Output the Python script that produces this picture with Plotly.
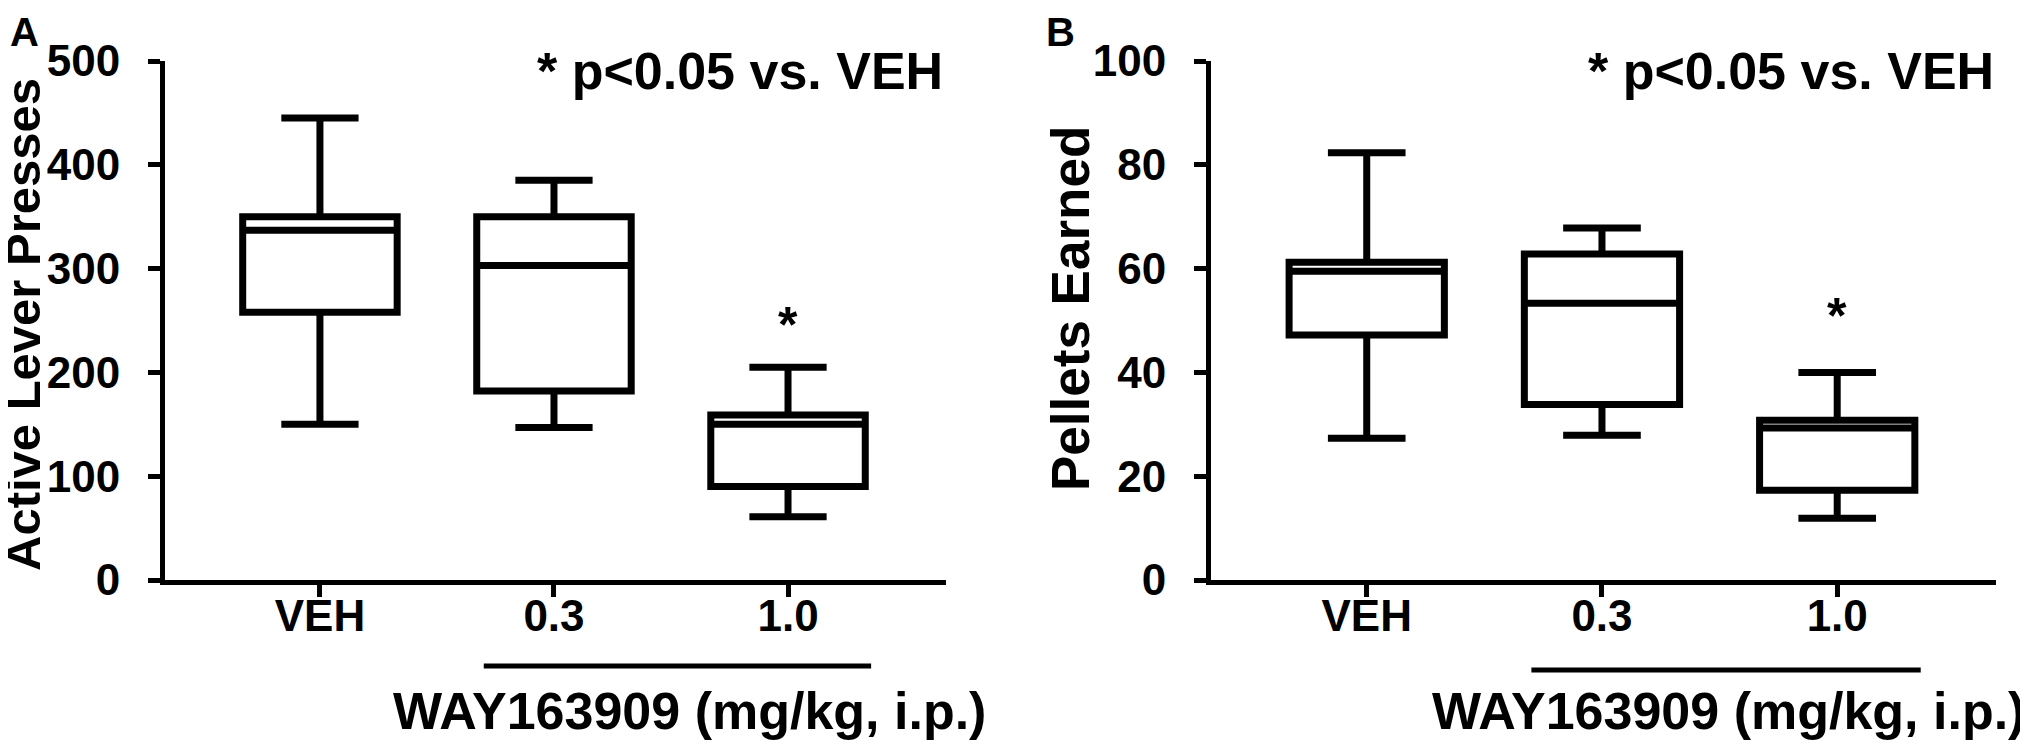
import plotly.graph_objects as go

categories = ["VEH", "0.3", "1.0"]

# Panel A: Active Lever Presses
a_upper = [445, 385, 205]
a_q3 = [350, 350, 159]
a_median = [337, 303, 150]
a_q1 = [258, 182, 90]
a_lower = [150, 147, 61]

# Panel B: Pellets Earned
b_upper = [82.3, 67.8, 40.0]
b_q3 = [61.2, 62.8, 30.8]
b_median = [59.5, 53.3, 29.3]
b_q1 = [47.2, 33.8, 17.3]
b_lower = [27.3, 27.9, 11.9]

a_ticks = [0, 100, 200, 300, 400, 500]
b_ticks = [0, 20, 40, 60, 80, 100]

W, H = 2028, 745
TOP, BOT = 53, 572
FONT = "Liberation Sans, Arial, sans-serif"


def px(x):
    return x / W


def py(y):
    return (BOT - y) / (BOT - TOP)


fig = go.Figure()

box_style = dict(
    fillcolor="white",
    line=dict(color="black", width=7),
    width=0.66,
    whiskerwidth=0.5,
    boxpoints=False,
    showlegend=False,
    hoverinfo="skip",
)

fig.add_trace(go.Box(x=categories, q1=a_q1, median=a_median, q3=a_q3,
                     lowerfence=a_lower, upperfence=a_upper,
                     xaxis="x", yaxis="y", **box_style))
fig.add_trace(go.Box(x=categories, q1=b_q1, median=b_median, q3=b_q3,
                     lowerfence=b_lower, upperfence=b_upper,
                     xaxis="x2", yaxis="y2", **box_style))

axis_common = dict(
    showline=True, linecolor="black", linewidth=5,
    ticks="outside", ticklen=12, tickwidth=5, tickcolor="black",
    showgrid=False, zeroline=False,
    tickfont=dict(family=FONT, size=44, color="black", weight="bold"),
)

xr = [-0.662, 2.675]
fig.update_layout(
    width=W, height=H,
    margin=dict(l=0, r=0, t=TOP, b=H - BOT),
    plot_bgcolor="white", paper_bgcolor="white",
    boxmode="overlay",
    xaxis=dict(domain=[px(157), px(938)], range=xr, type="category",
               anchor="y", ticklabelstandoff=-19, **axis_common),
    yaxis=dict(domain=[0, 1], range=[0, 500], tickvals=a_ticks,
               anchor="x", ticklabelstandoff=19, **axis_common),
    xaxis2=dict(domain=[px(1203), px(1988)], range=xr, type="category",
                anchor="y2", ticklabelstandoff=-19, **axis_common),
    yaxis2=dict(domain=[0, 1], range=[0, 100], tickvals=b_ticks,
                anchor="x2", ticklabelstandoff=19, **axis_common),
)

bold = dict(family=FONT, color="black", weight="bold")
ann = []
# panel letters
ann.append(dict(text="A", x=px(0), y=py(0), xref="paper", yref="paper",
                xanchor="left", yanchor="top", showarrow=False,
                font=dict(size=40, **bold)))
ann.append(dict(text="B", x=px(1036), y=py(0), xref="paper", yref="paper",
                xanchor="left", yanchor="top", showarrow=False,
                font=dict(size=40, **bold)))
# y titles
ann.append(dict(text="Active Lever Presses", x=px(15), y=py(317), xref="paper",
                yref="paper", textangle=-90, xanchor="center", yanchor="middle",
                showarrow=False, font=dict(size=49, **bold)))
ann.append(dict(text="Pellets Earned", x=px(1062), y=py(301), xref="paper",
                yref="paper", textangle=-90, xanchor="center", yanchor="middle",
                showarrow=False, font=dict(size=53, **bold)))
# significance notes
ann.append(dict(text="* p<0.05 vs. VEH", x=px(527), y=py(63), xref="paper",
                yref="paper", xanchor="left", yanchor="middle", showarrow=False,
                font=dict(size=52, **bold)))
ann.append(dict(text="* p<0.05 vs. VEH", x=px(1578), y=py(63), xref="paper",
                yref="paper", xanchor="left", yanchor="middle", showarrow=False,
                font=dict(size=52, **bold)))
# asterisks above the 1.0 group (category index 2)
ann.append(dict(text="*", x=2, y=py(317), xref="x", yref="paper",
                xanchor="center", yanchor="middle", showarrow=False,
                font=dict(size=50, **bold)))
ann.append(dict(text="*", x=2, y=py(308), xref="x2", yref="paper",
                xanchor="center", yanchor="middle", showarrow=False,
                font=dict(size=50, **bold)))
# x titles
ann.append(dict(text="WAY163909 (mg/kg, i.p.)", x=px(681), y=py(703),
                xref="paper", yref="paper", xanchor="center", yanchor="middle",
                showarrow=False, font=dict(size=52, **bold)))
ann.append(dict(text="WAY163909 (mg/kg, i.p.)", x=px(1720), y=py(703),
                xref="paper", yref="paper", xanchor="center", yanchor="middle",
                showarrow=False, font=dict(size=52, **bold)))
fig.update_layout(annotations=ann)

# underline bars for the drug doses
fig.add_shape(type="line", xref="x", yref="paper", x0=0.70, x1=2.355,
              y0=py(658), y1=py(658), line=dict(color="black", width=5))
fig.add_shape(type="line", xref="x2", yref="paper", x0=0.70, x1=2.355,
              y0=py(662), y1=py(662), line=dict(color="black", width=5))

fig.write_html("out.html")
